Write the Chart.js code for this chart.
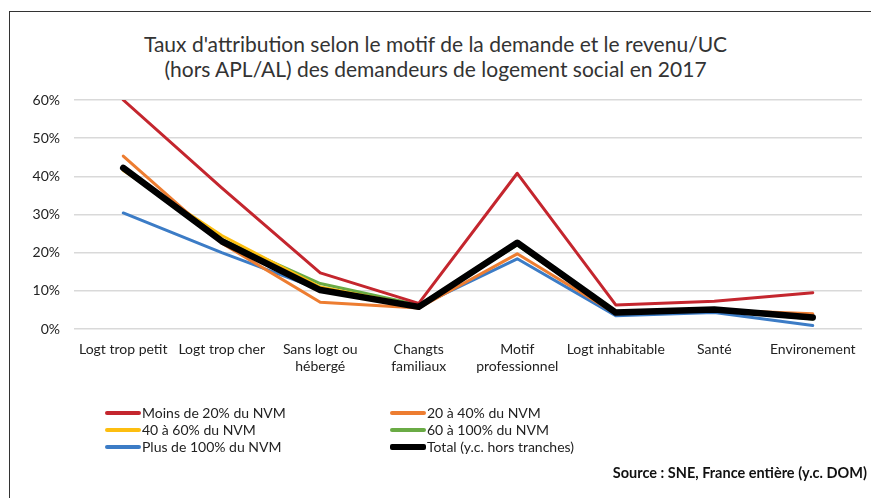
<!DOCTYPE html>
<html>
<head>
<meta charset="utf-8">
<script src="https://cdn.jsdelivr.net/npm/chart.js@4.4.1/dist/chart.umd.min.js"></script>
<style>
    body { margin: 0; background: #fff; font-family: Lato, "Open Sans", sans-serif; }
    #wrap { position: relative; width: 871px; height: 498px; overflow: hidden; }
    #frame { position: absolute; left: 9px; top: 11px; width: 900px; height: 520px;
             border-top: 1.5px solid #333; border-left: 1.5px solid #333; }
    #title { position: absolute; left: 0; width: 871px; top: 31px; text-align: center;
             font-size: 21px; line-height: 25px; color: #333; }
    canvas { position: absolute; left: 0; top: 0; }
    .leg { position: absolute; font-size: 14px; color: #222; line-height: 17px; white-space: nowrap; }
    .leg span.sw { display: inline-block; width: 36px; height: 4px; border-radius: 2px;
                   vertical-align: middle; margin-right: 1px; position: relative; top: -1px; }
    #source { position: absolute; right: 4px; top: 464px; font-size: 14.5px; font-weight: bold; color: #111; }
</style>
</head>
<body>
<div id="wrap">
    <div id="frame"></div>
    <div id="title">Taux d'attribution selon le motif de la demande et le revenu/UC<br>(hors APL/AL) des demandeurs de logement social en 2017</div>
    <canvas id="chart" width="871" height="498"></canvas>
    <div id="legend"></div>
    <div id="source">Source : SNE, France entière (y.c. DOM)</div>
</div>
<script>
// categories (motif de la demande)
const motifs = ['Logt trop petit', 'Logt trop cher', ['Sans logt ou', 'hébergé'], ['Changts', 'familiaux'],
    ['Motif', 'professionnel'], 'Logt inhabitable', 'Santé', 'Environement'];

// taux d'attribution (%) by income bracket
const moins20 = [60, 37, 14.7, 6.7, 40.8, 6.3, 7.3, 9.5];
const de20a40 = [45.3, 22.5, 7.0, 5.5, 19.7, 4.0, 5.0, 4.0];
const de40a60 = [41.5, 24.5, 11.0, 6.0, 22.4, 4.3, 5.2, 3.2];
const de60a100 = [42.0, 23.5, 11.9, 6.3, 22.0, 4.2, 5.0, 2.6];
const plus100 = [30.4, 20.0, 10.3, 6.0, 18.4, 3.5, 4.3, 0.9];
const total = [42.2, 23.0, 10.2, 5.8, 22.6, 4.3, 5.1, 3.0];

const yTicks = [0, 10, 20, 30, 40, 50, 60];

const series = [
    { label: 'Moins de 20% du NVM', data: moins20, color: '#c4262e', width: 3, order: 1 },
    { label: '20 à 40% du NVM', data: de20a40, color: '#ed7d31', width: 3, order: 3 },
    { label: '40 à 60% du NVM', data: de40a60, color: '#fdbe10', width: 3, order: 4 },
    { label: '60 à 100% du NVM', data: de60a100, color: '#6aab45', width: 3, order: 5 },
    { label: 'Plus de 100% du NVM', data: plus100, color: '#3c7cc6', width: 3, order: 6 },
    { label: 'Total (y.c. hors tranches)', data: total, color: '#000000', width: 6.5, order: 0 }
];

// legend, two columns like the original
const legendPos = [[105, 404], [390, 404], [105, 421], [390, 421], [105, 438], [390, 438]];
const legend = document.getElementById('legend');
series.forEach((s, i) => {
    const d = document.createElement('div');
    d.className = 'leg';
    d.style.left = legendPos[i][0] + 'px';
    d.style.top = legendPos[i][1] + 'px';
    const h = s.width > 4 ? 6 : 4;
    d.innerHTML = '<span class="sw" style="background:' + s.color + ';height:' + h + 'px"></span>' + s.label;
    legend.appendChild(d);
});

const ctx = document.getElementById('chart').getContext('2d');
new Chart(ctx, {
    type: 'line',
    data: {
        labels: motifs,
        datasets: series.map(s => ({
            label: s.label,
            data: s.data,
            borderColor: s.color,
            backgroundColor: s.color,
            borderWidth: s.width,
            pointRadius: 0,
            tension: 0,
            fill: false,
            order: s.order,
            borderJoinStyle: 'round',
            borderCapStyle: 'round'
        }))
    },
    options: {
        responsive: false,
        animation: false,
        layout: { padding: { left: 0, right: 9, top: 100, bottom: 0 } },
        plugins: {
            legend: { display: false },
            title: { display: false },
            tooltip: { enabled: false }
        },
        scales: {
            x: {
                offset: true,
                grid: { display: false, drawTicks: false, offset: true },
                border: { display: false },
                ticks: { color: '#222', font: { family: 'Lato', size: 14 }, padding: 12, maxRotation: 0, autoSkip: false },
                afterFit: scale => { scale.height = 169; scale.paddingLeft = 0; scale.paddingRight = 0; }
            },
            y: {
                min: 0,
                max: 60,
                afterBuildTicks: scale => { scale.ticks = yTicks.map(v => ({ value: v })); },
                grid: { color: '#d9d9d9', lineWidth: 1.5, drawTicks: false },
                border: { display: false },
                ticks: { color: '#222', font: { family: 'Lato', size: 14 }, padding: 14,
                         callback: v => v + '%' },
                afterFit: scale => { scale.width = 74; }
            }
        }
    }
});
</script>
</body>
</html>
